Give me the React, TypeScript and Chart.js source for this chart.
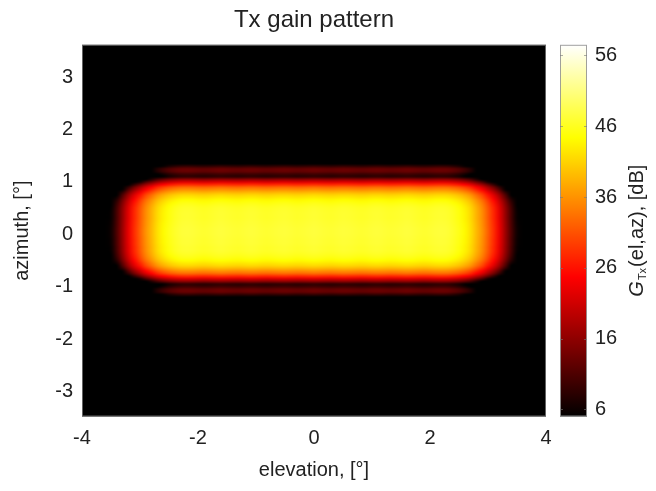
import React, { useEffect, useRef } from "react";
import { Chart, registerables } from "chart.js";

Chart.register(...registerables);

const TITLE = "Tx gain pattern";
const X_TITLE = "elevation, [°]";
const Y_TITLE = "azimuth, [°]";
const CB_TITLE_MAIN = "G";
const CB_TITLE_SUB = "Tx";
const CB_TITLE_REST = "(el,az), [dB]";

const X_TICKS = [-4, -2, 0, 2, 4];
const Y_TICKS = [-3, -2, -1, 0, 1, 2, 3];
const CB_TICKS = [6, 16, 26, 36, 46, 56];
const X_RANGE = [-4, 4];
const Y_RANGE = [-3.48, 3.62];
const CB_RANGE = [5, 57.5];

// Peak gain of the pattern, dB
const PEAK_GAIN = 46.5;

// Elevation cut (dB relative to peak), from -3.8° in steps of 0.1°
const EL_START = -3.8;
const EL_STEP = 0.1;
const EL_GAIN = [
  -45, -45, -44, -41, -36, -30, -24, -19, -15, -11, -8, -5, -3, -1.5, -0.5,
  0.2, 0.4, 0.3, 0, -0.2, 0, 0.3, 0.5, 0.3, 0.1, 0, 0.2, 0.4, 0.3, 0, -0.1,
  0.1, 0.3, 0.4, 0.2, 0, 0.1, 0.3, 0.5, 0.3, 0.1, 0, 0.2, 0.4, 0.3, 0.1, -0.1,
  0, 0.3, 0.4, 0.2, 0, 0.1, 0.3, 0.5, 0.3, 0, -0.2, 0, 0.3, 0.4, 0.2,
  -0.5, -1.5, -3, -5, -8, -11, -15, -19, -24, -30, -36, -41, -44, -45, -45,
];

// Azimuth cut (dB relative to peak), from -1.5° in steps of 0.05°
const AZ_START = -1.5;
const AZ_STEP = 0.05;
const AZ_GAIN = [
  -45, -45, -45, -45, -44, -43, -42, -38, -34, -34, -37, -38, -31, -25, -19,
  -14, -11, -8, -5.5, -4, -2.5, -1.5, -0.8, -0.3, 0, 0, 0.2, 0.3, 0.3, 0.4,
  0.5, 0.5, 0.5, 0.4, 0.3, 0.2, 0, 0, 0, -0.1, -0.3, -0.8, -1.5, -2.5, -4,
  -5.5, -8, -11, -14, -19, -25, -31, -38, -37, -34, -34, -38, -42, -43, -44,
  -45, -45, -45,
];

const FONT = "'Liberation Sans', Arial, Helvetica, sans-serif";
const TEXT_COLOR = "#222";

function hot(v: number): [number, number, number] {
  let t = (v - CB_RANGE[0]) / (CB_RANGE[1] - CB_RANGE[0]);
  t = Math.max(0, Math.min(1, t));
  const r = Math.min(1, t / 0.375);
  const g = Math.max(0, Math.min(1, (t - 0.375) / 0.375));
  const b = Math.max(0, Math.min(1, (t - 0.75) / 0.25));
  return [Math.round(r * 255), Math.round(g * 255), Math.round(b * 255)];
}

const heatPlugin = {
  id: "heatmap",
  beforeDatasetsDraw(chart: any) {
    const { ctx, chartArea: a, scales } = chart;
    const xs = scales.x;
    const ys = scales.y;
    ctx.save();
    const bg = hot(CB_RANGE[0]);
    ctx.fillStyle = `rgb(${bg[0]},${bg[1]},${bg[2]})`;
    ctx.fillRect(a.left, a.top, a.right - a.left, a.bottom - a.top);

    const nx = EL_GAIN.length;
    const ny = AZ_GAIN.length;
    const off = document.createElement("canvas");
    off.width = nx;
    off.height = ny;
    const octx = off.getContext("2d")!;
    const img = octx.createImageData(nx, ny);
    for (let j = 0; j < ny; j++) {
      const row = ny - 1 - j;
      for (let i = 0; i < nx; i++) {
        const v = PEAK_GAIN + EL_GAIN[i] + AZ_GAIN[j];
        const c = hot(v);
        const k = (row * nx + i) * 4;
        img.data[k] = c[0];
        img.data[k + 1] = c[1];
        img.data[k + 2] = c[2];
        img.data[k + 3] = 255;
      }
    }
    octx.putImageData(img, 0, 0);
    const x0 = xs.getPixelForValue(EL_START - EL_STEP / 2);
    const x1 = xs.getPixelForValue(EL_START + (nx - 0.5) * EL_STEP);
    const yTop = ys.getPixelForValue(AZ_START + (ny - 0.5) * AZ_STEP);
    const yBot = ys.getPixelForValue(AZ_START - AZ_STEP / 2);
    ctx.beginPath();
    ctx.rect(a.left, a.top, a.right - a.left, a.bottom - a.top);
    ctx.clip();
    ctx.imageSmoothingEnabled = true;
    ctx.imageSmoothingQuality = "high";
    ctx.drawImage(off, x0, yTop, x1 - x0, yBot - yTop);
    ctx.restore();

    ctx.save();
    ctx.strokeStyle = "rgba(110,110,110,0.9)";
    ctx.lineWidth = 1;
    ctx.strokeRect(a.left + 0.5, a.top + 0.5, a.right - a.left - 1, a.bottom - a.top - 1);
    ctx.restore();
  },
  afterDraw(chart: any) {
    const { ctx, chartArea: a, scales } = chart;
    const cb = scales.cb;
    const bx0 = a.right + 14;
    const bx1 = a.right + 41;
    const top = cb.getPixelForValue(CB_RANGE[1]);
    const bot = cb.getPixelForValue(CB_RANGE[0]);
    ctx.save();
    const grad = ctx.createLinearGradient(0, bot, 0, top);
    const N = 64;
    for (let k = 0; k <= N; k++) {
      const v = CB_RANGE[0] + (k / N) * (CB_RANGE[1] - CB_RANGE[0]);
      const c = hot(v);
      grad.addColorStop(k / N, `rgb(${c[0]},${c[1]},${c[2]})`);
    }
    ctx.fillStyle = grad;
    ctx.fillRect(bx0, top, bx1 - bx0, bot - top);
    ctx.strokeStyle = "rgba(150,150,150,0.9)";
    ctx.lineWidth = 1;
    ctx.strokeRect(bx0 + 0.5, top + 0.5, bx1 - bx0 - 1, bot - top - 1);
    ctx.strokeStyle = "rgba(120,120,120,0.6)";
    for (const v of CB_TICKS) {
      const y = Math.round(cb.getPixelForValue(v)) + 0.5;
      ctx.beginPath();
      ctx.moveTo(bx0, y);
      ctx.lineTo(bx0 + 3, y);
      ctx.moveTo(bx1 - 3, y);
      ctx.lineTo(bx1, y);
      ctx.stroke();
    }

    // colorbar label, rotated
    const cy = (top + bot) / 2;
    const cx = a.right + 91;
    ctx.translate(cx, cy);
    ctx.rotate(-Math.PI / 2);
    ctx.fillStyle = TEXT_COLOR;
    ctx.textBaseline = "middle";
    ctx.textAlign = "left";
    const fMain = `italic 20px ${FONT}`;
    const fSub = `11px ${FONT}`;
    const fRest = `20px ${FONT}`;
    ctx.font = fMain;
    const w1 = ctx.measureText(CB_TITLE_MAIN).width;
    ctx.font = fSub;
    const w2 = ctx.measureText(CB_TITLE_SUB).width;
    ctx.font = fRest;
    const w3 = ctx.measureText(CB_TITLE_REST).width;
    let x = -(w1 + w2 + w3 + 2) / 2;
    ctx.font = fMain;
    ctx.fillText(CB_TITLE_MAIN, x, 0);
    x += w1 + 1;
    ctx.font = fSub;
    ctx.fillText(CB_TITLE_SUB, x, 6);
    x += w2 + 1;
    ctx.font = fRest;
    ctx.fillText(CB_TITLE_REST, x, 0);
    ctx.restore();
  },
};

export default function App() {
  const ref = useRef<HTMLCanvasElement | null>(null);
  useEffect(() => {
    if (!ref.current) return;
    const tickFont = { family: FONT, size: 20 };
    const chart = new Chart(ref.current, {
      type: "scatter",
      data: { datasets: [{ data: [], pointRadius: 0 }] },
      options: {
        responsive: false,
        animation: false,
        devicePixelRatio: 1,
        layout: { padding: 0 },
        plugins: {
          legend: { display: false },
          tooltip: { enabled: false },
          title: {
            display: true,
            text: TITLE,
            fullSize: false,
            color: TEXT_COLOR,
            font: { family: FONT, size: 24, weight: "normal" },
            padding: { top: 6, bottom: 10 },
          },
        },
        scales: {
          x: {
            type: "linear",
            position: "bottom",
            min: X_RANGE[0],
            max: X_RANGE[1],
            afterBuildTicks: (s: any) => {
              s.ticks = X_TICKS.map((v) => ({ value: v }));
            },
            afterFit: (s: any) => {
              s.height = 74.5;
              s.paddingLeft = 0;
              s.paddingRight = 0;
            },
            grid: { display: false, drawTicks: false },
            border: { display: false },
            ticks: { font: tickFont, color: TEXT_COLOR, padding: 10, maxRotation: 0, autoSkip: false },
            title: {
              display: true,
              text: X_TITLE,
              color: TEXT_COLOR,
              font: tickFont,
              padding: { top: 0, bottom: 9 },
            },
          },
          y: {
            type: "linear",
            position: "left",
            min: Y_RANGE[0],
            max: Y_RANGE[1],
            afterBuildTicks: (s: any) => {
              s.ticks = Y_TICKS.map((v) => ({ value: v }));
            },
            afterFit: (s: any) => {
              s.width = 82;
              s.paddingTop = 0;
              s.paddingBottom = 0;
            },
            grid: { display: false, drawTicks: false },
            border: { display: false },
            ticks: { font: tickFont, color: TEXT_COLOR, padding: 9, autoSkip: false },
            title: {
              display: true,
              text: Y_TITLE,
              color: TEXT_COLOR,
              font: tickFont,
              padding: { top: 10, bottom: 0 },
            },
          },
          cb: {
            type: "linear",
            position: "right",
            axis: "y",
            min: CB_RANGE[0],
            max: CB_RANGE[1],
            afterBuildTicks: (s: any) => {
              s.ticks = CB_TICKS.map((v) => ({ value: v }));
            },
            afterFit: (s: any) => {
              s.width = 110;
              s.paddingTop = 0;
              s.paddingBottom = 0;
            },
            grid: { display: false, drawTicks: false },
            border: { display: false },
            ticks: { font: tickFont, color: TEXT_COLOR, padding: 49, autoSkip: false },
          },
        },
      } as any,
      plugins: [heatPlugin],
    });
    return () => chart.destroy();
  }, []);
  return (
    <div style={{ position: "absolute", left: 0, top: 0, width: 656, height: 491, background: "#fff" }}>
      <canvas ref={ref} width={656} height={491} />
    </div>
  );
}
